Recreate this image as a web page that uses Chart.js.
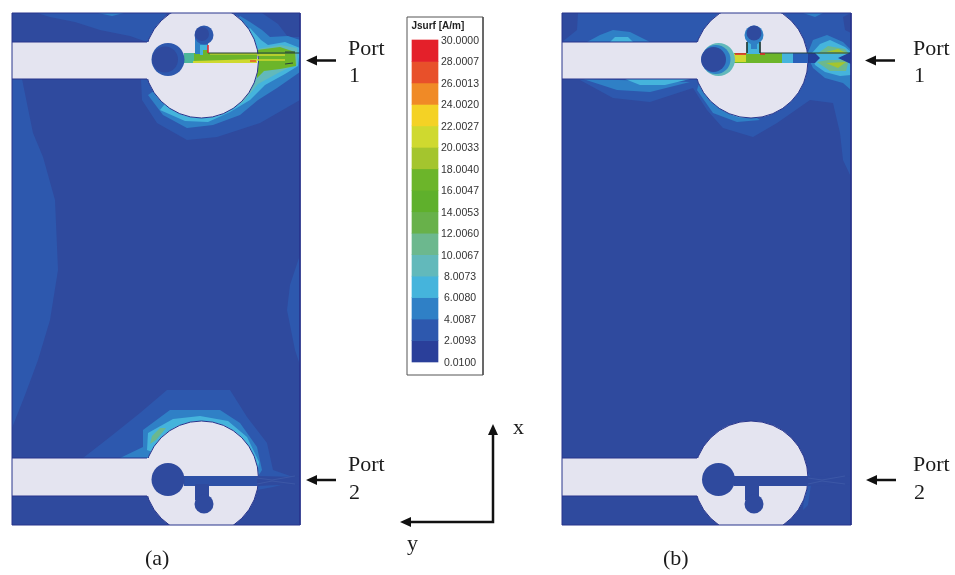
<!DOCTYPE html>
<html>
<head>
<meta charset="utf-8">
<title>Jsurf surface current</title>
<script src="https://cdn.jsdelivr.net/npm/chart.js@4"></script>
<style>
    html, body { margin: 0; padding: 0; background: #fff; }
    canvas { display: block; filter: blur(0.55px); }
</style>
</head>
<body>
<canvas id="chart" width="955" height="575"></canvas>
<script>
// Colour scale, bottom band first
const legendValues = [0.0100, 2.0093, 4.0087, 6.0080, 8.0073, 10.0067, 12.0060, 14.0053, 16.0047, 18.0040, 20.0033, 22.0027, 24.0020, 26.0013, 28.0007, 30.0000];
const legendLabels = ['0.0100', '2.0093', '4.0087', '6.0080', '8.0073', '10.0067', '12.0060', '14.0053', '16.0047', '18.0040', '20.0033', '22.0027', '24.0020', '26.0013', '28.0007', '30.0000'];
const legendColors = ['#2a3f9a', '#2d58ae', '#2f80c6', '#45b4dc', '#62b9bb', '#6cb88e', '#68b14a', '#5fb02c', '#6cb52a', '#a4c52e', '#cfd92f', '#f4d225', '#f08a26', '#e8502a', '#e4202a'];
const legendTitle = 'Jsurf [A/m]';

const PANEL = '#2f4a9e', METAL = '#e4e4f0', EDGE = '#28348c', INK = '#1c1c1c';
const [L1, L2, L3, L4, L5, L6, L7, L8, L9, L10, L11, L12, L13, L14] = legendColors.slice(1);

// Board outlines
const panelA = [[12, 13], [300, 13], [300, 525], [12, 525]];
const panelB = [[562, 13], [851, 13], [851, 525], [562, 525]];

// Panel (a), field contours
const aTopLeft1 = [[37, 13], [167, 13], [147, 42], [130, 36], [100, 30], [75, 22], [50, 17]];
const aTopLeft2 = [[98, 13], [124, 13], [112, 16]];
const aLeftEdge1 = [[12, 79], [22, 79], [33, 133], [43, 157], [55, 200], [58, 270], [50, 320], [38, 360], [25, 395], [12, 428]];
const aRightEdge1 = [[300, 255], [290, 285], [287, 310], [295, 350], [300, 365]];
const aPlume1 = [[141, 79], [142, 100], [157, 123], [187, 140], [217, 137], [260, 123], [300, 100], [300, 37], [288, 37], [278, 24], [262, 13], [233, 13], [200, 60]];
const aPlume2 = [[148, 95], [163, 115], [187, 128], [213, 125], [240, 115], [258, 100], [277, 88], [300, 72], [300, 40], [288, 36], [270, 37], [262, 30], [250, 22], [240, 16], [200, 60]];
const aPlume3 = [[160, 110], [185, 121], [208, 122], [230, 112], [250, 100], [265, 85], [285, 74], [298, 66], [300, 48], [285, 42], [268, 45], [261, 40], [250, 28], [200, 60]];
const aPlume4 = [[222, 114], [243, 102], [258, 84], [280, 72], [297, 64], [297, 48], [280, 45], [262, 48], [200, 60]];
const aPlume6 = [[257, 50], [280, 47], [295, 52], [296, 66], [280, 69], [264, 71], [257, 78]];
const aLower1 = [[83, 458], [110, 437], [140, 413], [167, 390], [230, 390], [247, 417], [267, 443], [273, 470], [293, 477], [293, 482], [273, 487], [257, 490], [180, 480]];
const aLower2 = [[120, 458], [143, 447], [143, 430], [170, 410], [220, 410], [240, 423], [257, 447], [262, 470], [257, 478], [200, 470]];
const aLower3 = [[147, 450], [148, 433], [173, 419], [200, 416], [228, 421], [247, 437], [259, 462], [257, 475], [200, 470]];
const aLower4 = [[150, 444], [152, 436], [160, 428], [166, 428], [156, 440]];

// Panel (b), field contours
const bMain1 = [[578, 13], [851, 13], [851, 177], [843, 160], [840, 133], [833, 103], [810, 100], [777, 123], [753, 137], [723, 128], [707, 110], [693, 88], [650, 102], [613, 98], [580, 80], [562, 79], [562, 42], [577, 30]];
const bCorner0 = [[843, 17], [851, 13], [851, 33], [845, 30]];
const bTop2 = [[803, 13], [823, 13], [815, 17]];
const bAbove2 = [[587, 42], [600, 35], [613, 30], [630, 32], [650, 42]];
const bAbove3 = [[610, 42], [615, 37], [628, 37], [633, 42]];
const bBelow2 = [[583, 79], [617, 90], [650, 92], [690, 82]];
const bBelow3 = [[625, 79], [640, 85], [665, 85], [690, 79]];
const bUnder2 = [[697, 90], [713, 113], [737, 122], [760, 120], [700, 80]];
const bUnder3 = [[727, 113], [740, 118], [750, 118]];
const bBlob2 = [[807, 55], [813, 40], [827, 35], [843, 42], [851, 50], [851, 90], [843, 83], [825, 78], [813, 68]];
const bBlob3 = [[812, 53], [820, 44], [830, 40], [845, 47], [851, 52], [851, 75], [840, 76], [825, 72], [815, 65]];
const bBlob5 = [[817, 54], [828, 46], [845, 49], [849, 54]];
const bBlob5b = [[817, 62], [828, 60], [849, 60], [846, 71], [830, 71]];
const bBlob8 = [[826, 52], [838, 49], [846, 53]];
const bBlob8b = [[826, 63], [846, 62], [838, 68]];
const bNotch0 = [[806, 53], [815, 53], [820, 58], [815, 63], [806, 63]];
const bNotch1 = [[838, 58], [851, 52], [851, 64]];
const bLowerCrescent = [[806, 470], [812, 478], [808, 505], [803, 510]];

// Antenna metal
const aFeedTop = [[12, 42], [170, 42], [170, 79], [12, 79]];
const aFeedBottom = [[12, 458], [170, 458], [170, 496], [12, 496]];
const bFeedTop = [[562, 42], [720, 42], [720, 79], [562, 79]];
const bFeedBottom = [[562, 458], [720, 458], [720, 496], [562, 496]];
const patchDiscs = [[201.5, 61, 57], [201.5, 478, 57], [751, 61, 57], [751, 478, 57]];

// Slots in the patches
const aSlot = [[184, 53], [257, 53], [257, 63], [184, 63]];
const aSlotNeck = [[184, 53], [194, 53], [194, 63], [184, 63]];
const aSlotLow = [[193, 61], [257, 59], [257, 63], [193, 63]];
const aSlotHigh = [[210, 53], [257, 53], [257, 55], [210, 55]];
const aStem = [[195, 38], [208, 38], [208, 54], [195, 54]];
const aStemCore = [[200, 45], [208, 45], [208, 55], [200, 55]];
const aStemFoot = [[203, 50], [208, 50], [208, 56], [203, 56]];
const aLowerSlot = [[184, 476], [257, 476], [257, 486], [184, 486]];
const aLowerTail = [[257, 476], [300, 477], [300, 484], [257, 486]];
const aLowerStem = [[195, 484], [209, 484], [209, 500], [195, 500]];
const bSlot = [[734, 53], [808, 53], [808, 63], [734, 63]];
const bSlotYellow = [[734, 54], [746, 54], [746, 62], [734, 62]];
const bSlotCyan = [[782, 53], [796, 53], [796, 63], [782, 63]];
const bSlotBlue = [[793, 53], [808, 53], [808, 63], [793, 63]];
const bStem = [[747, 38], [760, 38], [760, 54], [747, 54]];
const bStemCore = [[751, 38], [757, 38], [757, 49], [751, 49]];
const bLowerSlot = [[734, 476], [808, 476], [808, 486], [734, 486]];
const bLowerTail = [[808, 476], [851, 477], [851, 484], [808, 486]];
const bLowerStem = [[745, 484], [759, 484], [759, 500], [745, 500]];

// Bore and stub discs, outer ring first
const aDiscs = [[168, 59.5, 16.5, L1], [165, 59.5, 13, PANEL], [204, 35, 9.5, L1], [202, 34, 7, PANEL]];
const bDiscs = [[718.5, 59.5, 16.5, L4], [716, 59.5, 14.5, L2], [713.5, 59.5, 12.5, PANEL], [754, 35, 9.5, L2], [754, 33, 7.5, PANEL]];
const lowerDiscs = [[168, 479.5, 16.5, PANEL], [204, 504, 9.5, PANEL], [718.5, 479.5, 16.5, PANEL], [754, 504, 9.5, PANEL]];

// Thin hot streaks and edges
const aRed = [[208, 45], [208, 53]];
const aHot = [[250, 61], [256, 61]];
const aTopEdge = [[208, 53], [300, 53]];
const aStreak1 = [[257, 55], [285, 55]];
const aStreak2 = [[257, 60], [285, 60]];
const aTip1 = [[285, 52], [295, 52]];
const aTip2 = [[285, 64], [293, 63]];
const aWake1 = [[257, 478], [272, 480], [295, 476]];
const aWake2 = [[257, 484], [272, 481], [295, 484]];
const bWake1 = [[808, 478], [822, 480], [845, 476]];
const bWake2 = [[808, 484], [822, 481], [845, 484]];
const bTopEdge = [[760, 53], [851, 53]];
const bRedLeft = [[735, 54], [746, 54]];
const bRedRight = [[760, 54], [765, 54]];
const bStemLeft = [[747, 42], [747, 53]];
const bStemRight = [[760, 42], [760, 53]];
const aFeedEdges = [[[12, 42], [147, 42]], [[12, 79], [147, 79]], [[12, 458], [147, 458]], [[12, 496], [147, 496]]];
const bFeedEdges = [[[562, 42], [697, 42]], [[562, 79], [697, 79]], [[562, 458], [697, 458]], [[562, 496], [697, 496]]];

// Arrows
const portShafts = [[[314, 60.5], [336, 60.5]], [[314, 480], [336, 480]], [[873, 60.5], [895, 60.5]], [[874, 480], [896, 480]]];
const portHeads = [[[306, 60.5], [317, 55.5], [317, 65.5]], [[306, 480], [317, 475], [317, 485]], [[865, 60.5], [876, 55.5], [876, 65.5]], [[866, 480], [877, 475], [877, 485]]];
const axisLines = [[493, 432], [493, 522], [408, 522]];
const axisHeadX = [[493, 424], [488, 435], [498, 435]];
const axisHeadY = [[400, 522], [411, 517], [411, 527]];

// Masks that trim the patch discs at the board edges
const topMask = [[0, 0], [955, 0], [955, 13], [0, 13]];
const bottomMaskA = [[0, 525], [390, 525], [390, 542], [0, 542]];
const bottomMaskB = [[555, 525], [860, 525], [860, 542], [555, 542]];

const legendBox = [[407, 17], [483, 17], [483, 375], [407, 375]];

const captions = ['Port', '1', 'Port', '2', 'Port', '1', 'Port', '2', 'x', 'y', '(a)', '(b)'];
const captionSpots = [[348, 55], [349, 82], [348, 471], [349, 499], [913, 55], [914, 82], [913, 471], [914, 499], [513, 434], [407, 550], [145, 565], [663, 565]];

const datasets = [];

function shape(points, color) {
    datasets.push({
        type: 'scatter', data: points.concat([points[0]]), showLine: true, fill: 'shape',
        backgroundColor: color, borderWidth: 0, pointRadius: 0, tension: 0
    });
}

function stroke(points, color, width) {
    datasets.push({
        type: 'scatter', data: points, showLine: true, fill: false,
        borderColor: color, borderWidth: width, pointRadius: 0, tension: 0
    });
}

function discs(list, color, border) {
    list.forEach(d => {
        datasets.push({
            type: 'bubble', data: [{ x: d[0], y: d[1], r: d[2] }],
            backgroundColor: d[3] || color, borderColor: border || d[3] || color, borderWidth: border ? 1 : 0
        });
    });
}

// Boards and contours, painted bottom to top
shape(panelA, PANEL);
shape(panelB, PANEL);
[[aTopLeft1, L1], [aTopLeft2, L2], [aLeftEdge1, L1], [aRightEdge1, L1], [aPlume1, L1], [aPlume2, L2], [aPlume3, L3], [aPlume4, L4], [aPlume6, L8],
 [aLower1, L1], [aLower2, L2], [aLower3, L3], [aLower4, L5],
 [bMain1, L1], [bCorner0, PANEL], [bTop2, L2], [bAbove2, L2], [bAbove3, L3], [bBelow2, L2], [bBelow3, L3], [bUnder2, L2], [bUnder3, L3],
 [bBlob2, L2], [bBlob3, L3], [bBlob5, L5], [bBlob5b, L5], [bBlob8, L9], [bBlob8b, L9], [bNotch0, '#23409a'], [bNotch1, '#23409a'], [bLowerCrescent, L1]
].forEach(l => shape(l[0], l[1]));

// Metal
discs(patchDiscs, METAL, EDGE);
[aFeedTop, aFeedBottom, bFeedTop, bFeedBottom].forEach(p => shape(p, METAL));
aFeedEdges.concat(bFeedEdges).forEach(p => stroke(p, EDGE, 1));

// Slots
[[aSlot, L8], [aSlotNeck, '#4cb89a'], [aSlotLow, L10], [aSlotHigh, L9], [aStem, L2], [aStemCore, L3], [aStemFoot, L8],
 [aLowerSlot, '#2d50a6'], [aLowerTail, PANEL], [aLowerStem, PANEL],
 [bSlot, L8], [bSlotYellow, L10], [bSlotCyan, L3], [bSlotBlue, '#2a5fb8'], [bStem, L3], [bStemCore, L2],
 [bLowerSlot, PANEL], [bLowerTail, PANEL], [bLowerStem, PANEL]
].forEach(l => shape(l[0], l[1]));
discs(aDiscs);
discs(bDiscs);
discs(lowerDiscs);

// Streaks
stroke(aStreak1, L10, 1.5);
stroke(aStreak2, L10, 1.5);
stroke(aTopEdge, '#27403c', 1);
stroke(aTip1, '#27403c', 1);
stroke(aTip2, '#27403c', 1);
stroke(aRed, L14, 1.5);
stroke(aHot, L13, 1.5);
stroke(bTopEdge, '#27403c', 1);
stroke(bRedLeft, L14, 1.5);
stroke(bRedRight, L14, 1.5);
stroke(bStemLeft, '#27403c', 1);
stroke(bStemRight, '#27403c', 1);
[aWake1, aWake2, bWake1, bWake2].forEach(p => stroke(p, '#3f5aa8', 0.8));

// Trim
shape(topMask, '#ffffff');
shape(bottomMaskA, '#ffffff');
shape(bottomMaskB, '#ffffff');
stroke(panelA.concat([panelA[0]]), EDGE, 1);
stroke(panelB.concat([panelB[0]]), EDGE, 1);

// Colour scale box and its bands
stroke(legendBox.concat([legendBox[0]]), '#555555', 1);
datasets.push({
    type: 'bar', yAxisID: 'yLegend', barThickness: 26, borderWidth: 0,
    backgroundColor: legendColors,
    data: legendColors.map((c, i) => ({ x: 425, y: [legendValues[i], legendValues[i + 1]] }))
});

// Arrows
portShafts.forEach(p => stroke(p, '#111111', 2.5));
portHeads.forEach(p => shape(p, '#111111'));
stroke(axisLines, '#111111', 2.5);
shape(axisHeadX, '#111111');
shape(axisHeadY, '#111111');

datasets.forEach((d, i) => { d.order = datasets.length - i; });

const textPlugin = {
    id: 'texts',
    afterDraw(chart) {
        const ctx = chart.ctx;
        const x = chart.scales.x, y = chart.scales.y, yl = chart.scales.yLegend;
        ctx.save();
        ctx.fillStyle = INK;
        ctx.textBaseline = 'alphabetic';
        ctx.textAlign = 'left';
        ctx.font = '22px "Liberation Serif"';
        captions.forEach((t, i) => {
            ctx.fillText(t, x.getPixelForValue(captionSpots[i][0]), y.getPixelForValue(captionSpots[i][1]));
        });
        ctx.fillStyle = '#222222';
        ctx.font = 'bold 10px "Liberation Sans"';
        ctx.fillText(legendTitle, x.getPixelForValue(411.5), y.getPixelForValue(29));
        ctx.fillStyle = '#333333';
        ctx.font = '10.5px "Liberation Sans"';
        ctx.textAlign = 'center';
        ctx.textBaseline = 'middle';
        legendValues.forEach((v, i) => {
            ctx.fillText(legendLabels[i], x.getPixelForValue(460), yl.getPixelForValue(v) + 1);
        });
        ctx.restore();
    }
};

new Chart(document.getElementById('chart'), {
    type: 'scatter',
    data: { datasets },
    plugins: [textPlugin],
    options: {
        responsive: false,
        animation: false,
        events: [],
        layout: { padding: 0, autoPadding: false },
        plugins: { legend: { display: false }, tooltip: { enabled: false } },
        scales: {
            x: { type: 'linear', min: 0, max: 955, display: false, offset: false },
            y: { type: 'linear', min: 0, max: 575, reverse: true, display: false },
            yLegend: { type: 'linear', min: -19.829, max: 33.7255, display: false }
        }
    }
});
</script>
</body>
</html>
